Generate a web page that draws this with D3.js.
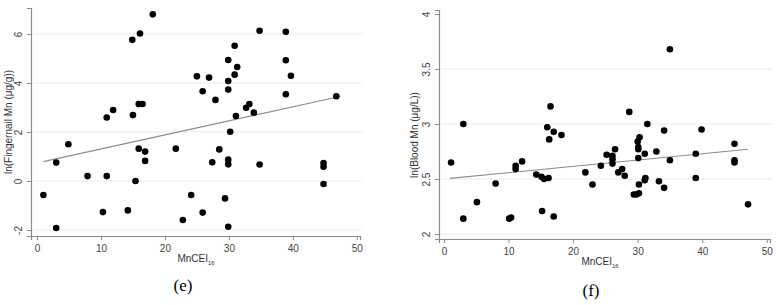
<!DOCTYPE html>
<html><head><meta charset="utf-8">
<script src="https://cdn.jsdelivr.net/npm/d3@7"></script>
<style>body{margin:0;background:#fff}svg{display:block}</style>
</head><body><div id="c"></div>
<script>
// Panel (e): ln(Fingernail Mn) vs MnCEI16
const eX = [18.1,16.1,14.9,25.0,11.9,10.9,15.0,15.9,16.5,4.9,3.0,15.9,16.9,16.9,21.7,7.9,10.9,15.4,1.0,24.1,10.3,14.2,22.8,3.0,28.5,27.4,29.9,29.9,34.8,44.8,44.8,44.8,29.4,25.9,29.9,34.8,38.9,30.9,29.9,38.9,31.3,26.9,39.7,29.9,30.9,25.9,29.9,38.9,27.9,33.2,32.7,33.9,31.1,46.8,30.2];
const eY = [6.8,6.02,5.76,4.27,2.9,2.59,2.69,3.14,3.14,1.5,0.75,1.32,1.2,0.82,1.32,0.2,0.2,0.0,-0.57,-0.57,-1.27,-1.2,-1.59,-1.92,1.29,0.76,0.87,0.68,0.67,0.73,0.58,-0.12,-0.71,-1.29,-1.87,6.13,6.09,5.52,4.94,4.93,4.65,4.22,4.29,4.08,4.34,3.66,3.73,3.54,3.31,3.14,2.99,2.79,2.65,3.46,2.01];
const eFitX = [1, 47];
const eFitY = [0.79, 3.43];
const eYTicks = [-2,0,2,4,6];
// Panel (f): ln(Blood Mn) vs MnCEI16
const fX = [3.0,16.5,16.0,17.0,18.2,16.3,1.1,3.0,5.1,8.0,10.1,10.4,11.1,11.1,12.1,14.3,15.1,15.5,16.2,15.2,17.0,21.9,23.0,24.3,35.0,28.7,31.5,34.1,39.9,45.0,30.3,30.0,30.1,30.1,30.1,26.5,25.2,26.1,26.1,26.1,31.1,32.9,27.6,27.0,28.0,30.2,31.2,31.1,29.4,29.8,30.2,33.3,34.1,35.0,39.0,39.0,45.0,45.0,47.1];
const fY = [3.0,3.16,2.97,2.93,2.90,2.86,2.65,2.14,2.29,2.46,2.14,2.15,2.62,2.59,2.66,2.54,2.52,2.50,2.51,2.21,2.16,2.56,2.45,2.62,3.68,3.11,3.0,2.94,2.95,2.82,2.88,2.84,2.79,2.77,2.69,2.77,2.72,2.71,2.68,2.64,2.73,2.75,2.59,2.56,2.53,2.45,2.51,2.49,2.36,2.36,2.37,2.48,2.42,2.67,2.73,2.51,2.67,2.65,2.27];
const fFitX = [0.93, 47.1];
const fFitY = [2.506, 2.77];
const fYTicks = [2,2.5,3,3.5,4];
const fGrid = [2,2.5,3,3.5];
const xTicks = [0,10,20,30,40,50];

const svg = d3.select("#c").append("svg").attr("width",776).attr("height",305);
const font = "'Liberation Sans', Arial, sans-serif";

function panel(o){
  const g = svg.append("g");
  const x = d3.scaleLinear().domain(o.xDom).range(o.xRange);
  const y = d3.scaleLinear().domain(o.yDom).range(o.yRange);
  // grid
  g.selectAll(".grid").data(o.grid).enter().append("line")
    .attr("x1",o.xRange[0]).attr("x2",o.xRange[1]+2)
    .attr("y1",d=>y(d)).attr("y2",d=>y(d))
    .attr("stroke","#e9eeee").attr("stroke-width",1);
  // axes
  const ya = g.append("g").attr("transform",`translate(${o.xRange[0]},0)`)
    .call(d3.axisLeft(y).tickValues(o.yTicks).tickSizeOuter(0).tickSize(4).tickFormat(d=>String(d)));
  const xa = g.append("g").attr("transform",`translate(0,${o.yRange[0]})`)
    .call(d3.axisBottom(x).tickValues(xTicks).tickSizeOuter(0).tickSize(4));
  [ya,xa].forEach(a=>{
    a.select(".domain").attr("stroke","#8a8a8a").attr("stroke-width",1.2);
    a.selectAll(".tick line").attr("stroke","#8a8a8a");
    a.selectAll("text").attr("fill","#444").attr("font-family",font).attr("font-size",10);
  });
  ya.selectAll(".tick text").attr("transform",function(){return null;})
    .each(function(d){
      const t=d3.select(this);
      t.attr("x",null).attr("dy",null).attr("text-anchor","middle")
       .attr("transform",`translate(-10,${y(d)-y(d)}) rotate(-90)`);
    });
  ya.selectAll(".tick text").attr("transform","translate(-9,0) rotate(-90)").attr("dy","0");
  xa.selectAll(".tick text").attr("dy","0.9em");
  // fit line
  g.append("line")
    .attr("x1",x(o.fitX[0])).attr("y1",y(o.fitY[0]))
    .attr("x2",x(o.fitX[1])).attr("y2",y(o.fitY[1]))
    .attr("stroke","#8c8c8c").attr("stroke-width",1.1);
  // points
  g.selectAll("circle").data(o.px.map((v,i)=>[v,o.py[i]])).enter().append("circle")
    .attr("cx",d=>x(d[0])).attr("cy",d=>y(d[1])).attr("r",3.3).attr("fill","#000");
  // y label
  g.append("text").attr("transform",`translate(${o.yLabX},${o.yLabY}) rotate(-90)`)
    .attr("text-anchor","middle").attr("font-family",font).attr("font-size",10).attr("fill","#333")
    .text(o.yLabel);
  // x label
  const xl = g.append("text").attr("x",o.xLabX).attr("y",o.xLabY).attr("text-anchor","middle")
    .attr("font-family",font).attr("font-size",10).attr("fill","#333");
  xl.append("tspan").text("MnCEI");
  xl.append("tspan").attr("font-size",6).attr("dy",3).text("16");
  // panel letter
  g.append("text").attr("x",o.letX).attr("y",o.letY).attr("text-anchor","middle")
    .attr("font-family","'Liberation Serif', 'Times New Roman', serif").attr("font-size",17).attr("fill","#000")
    .text(o.letter);
}

panel({xDom:[-0.94,50.5], xRange:[31,360], yDom:[-2.245,7.06], yRange:[236,8],
  yTicks:eYTicks, grid:eYTicks, fitX:eFitX, fitY:eFitY, px:eX, py:eY,
  yLabel:"ln(Fingernail Mn (μg/g))", yLabX:12, yLabY:122, xLabX:196, xLabY:262,
  letter:"(e)", letX:183, letY:291});
panel({xDom:[-0.77,50.5], xRange:[439,770], yDom:[1.955,4.036], yRange:[239,10],
  yTicks:fYTicks, grid:fGrid, fitX:fFitX, fitY:fFitY, px:fX, py:fY,
  yLabel:"ln(Blood Mn (μg/L))", yLabX:418, yLabY:135, xLabX:600, xLabY:265,
  letter:"(f)", letX:591, letY:296});
</script></body></html>
